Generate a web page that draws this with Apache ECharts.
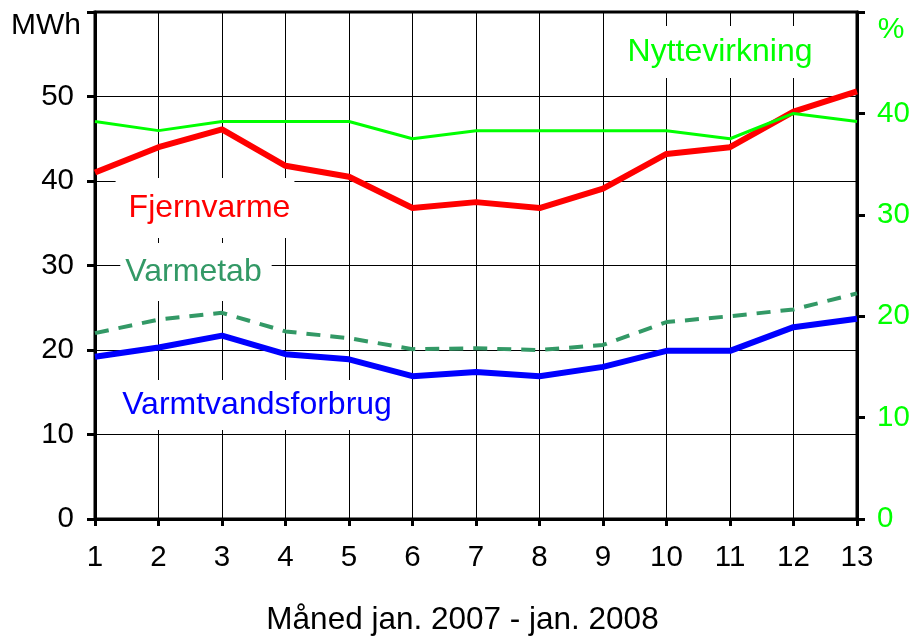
<!DOCTYPE html>
<html>
<head>
<meta charset="utf-8">
<script src="https://cdn.jsdelivr.net/npm/echarts@6/dist/echarts.min.js"></script>
<style>
  html, body { margin: 0; padding: 0; background: #fff; }
  #chart { width: 919px; height: 641px; }
</style>
</head>
<body>
<div id="chart"></div>
<script>
// Months (jan. 2007 - jan. 2008)
const months = ['1', '2', '3', '4', '5', '6', '7', '8', '9', '10', '11', '12', '13'];
// MWh per month
const fjernvarme = [41.0, 44.0, 46.1, 41.8, 40.5, 36.8, 37.5, 36.8, 39.1, 43.2, 44.0, 48.2, 50.6];
const varmetab = [22.0, 23.6, 24.4, 22.2, 21.4, 20.1, 20.2, 20.0, 20.6, 23.3, 24.0, 24.8, 26.7];
const varmtvandsforbrug = [19.2, 20.3, 21.7, 19.5, 18.9, 16.9, 17.4, 16.9, 18.0, 19.9, 19.9, 22.7, 23.7];
// Efficiency, percent
const nyttevirkning = [39.2, 38.3, 39.2, 39.2, 39.2, 37.5, 38.3, 38.3, 38.3, 38.3, 37.5, 40.0, 39.2];

const FONT = '"Liberation Sans", Arial, sans-serif';

const chart = echarts.init(document.getElementById('chart'), null, { renderer: 'canvas' });

function label(text, x, y, color, pad) {
  return {
    type: 'text',
    z: 1,
    style: {
      text: text,
      x: x,
      y: y,
      fill: color,
      font: '32px ' + FONT,
      align: 'center',
      verticalAlign: 'middle',
      backgroundColor: '#fff',
      padding: pad
    }
  };
}

chart.setOption({
  animation: false,
  backgroundColor: '#fff',
  textStyle: { fontFamily: FONT },
  grid: {
    left: 95, right: 62, top: 12, bottom: 121,
    show: true, borderColor: '#000', borderWidth: 3, backgroundColor: 'transparent'
  },
  xAxis: {
    type: 'category',
    data: months,
    boundaryGap: false,
    name: 'Måned jan. 2007 - jan. 2008',
    nameLocation: 'middle',
    nameGap: 85,
    nameTextStyle: { fontSize: 31.5, color: '#000', fontFamily: FONT, padding: [0, 27, 0, 0] },
    axisLine: { lineStyle: { color: '#000', width: 3 } },
    axisTick: { show: true, length: 7, lineStyle: { color: '#000', width: 3 }, interval: 0 },
    axisLabel: { fontSize: 29.5, color: '#000', margin: 24, interval: 0, fontFamily: FONT },
    splitLine: { show: true, interval: 0, lineStyle: { color: '#000', width: 1 } }
  },
  yAxis: [
    {
      type: 'value',
      min: 0, max: 60, interval: 10,
      position: 'left',
      axisLine: { show: true, lineStyle: { color: '#000', width: 3 } },
      axisTick: { show: true, length: 8, lineStyle: { color: '#000', width: 3 } },
      axisLabel: {
        fontSize: 29.5, color: '#000', margin: 21, fontFamily: FONT,
        formatter: v => (v === 60 ? '' : String(v))
      },
      splitLine: { show: true, lineStyle: { color: '#000', width: 1 } }
    },
    {
      type: 'value',
      min: 0, max: 50, interval: 10,
      position: 'right',
      axisLine: { show: true, lineStyle: { color: '#000', width: 3 } },
      axisTick: { show: true, length: 8, lineStyle: { color: '#000', width: 3 } },
      axisLabel: {
        fontSize: 29.5, color: '#00ff00', margin: 20, fontFamily: FONT,
        formatter: v => (v === 50 ? '' : String(v))
      },
      splitLine: { show: false }
    }
  ],
  graphic: [
    { type: 'text', style: { text: 'MWh', x: 46, y: 26, fill: '#000', font: '30px ' + FONT, align: 'center', verticalAlign: 'middle' } },
    { type: 'text', style: { text: '%', x: 891, y: 30, fill: '#00ff00', font: '30px ' + FONT, align: 'center', verticalAlign: 'middle' } },
    label('Fjernvarme', 205, 208, '#ff0000', [14, 4, 14, 13]),
    label('Varmetab', 196, 272, '#339966', [13, 10, 13, 5]),
    label('Varmtvandsforbrug', 256, 405, '#0000ff', [9, 7, 9, 9]),
    label('Nyttevirkning', 720, 52, '#00ff00', [10, 9, 10, 9])
  ],
  series: [
    {
      name: 'Fjernvarme', type: 'line', yAxisIndex: 0, data: fjernvarme,
      symbol: 'none', lineStyle: { color: '#ff0000', width: 6 }, z: 3
    },
    {
      name: 'Varmtvandsforbrug', type: 'line', yAxisIndex: 0, data: varmtvandsforbrug,
      symbol: 'none', lineStyle: { color: '#0000ff', width: 6 }, z: 3
    },
    {
      name: 'Varmetab', type: 'line', yAxisIndex: 0, data: varmetab,
      symbol: 'none', lineStyle: { color: '#339966', width: 4, type: [14, 10] }, z: 3
    },
    {
      name: 'Nyttevirkning', type: 'line', yAxisIndex: 1, data: nyttevirkning,
      symbol: 'none', lineStyle: { color: '#00ff00', width: 3 }, z: 4
    }
  ]
});
</script>
</body>
</html>
